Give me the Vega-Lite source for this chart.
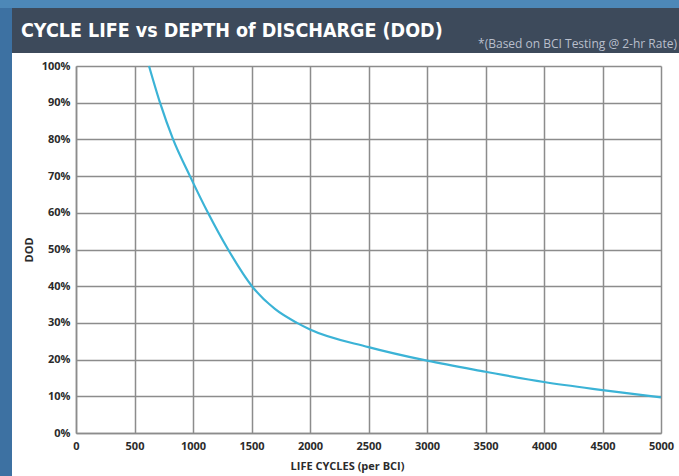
{
  "$schema": "https://vega.github.io/schema/vega-lite/v6.json",
  "background": "#ffffff",
  "padding": 0,
  "spacing": -6,
  "config": {
    "view": {"stroke": null},
    "font": "Open Sans"
  },
  "vconcat": [
    {
      "width": 679,
      "height": 8,
      "view": {"fill": "#4d88b8", "stroke": null},
      "data": {"values": []},
      "mark": "rect",
      "encoding": {}
    },
    {
      "spacing": 0,
      "hconcat": [
        {
          "width": 12,
          "height": 58,
          "view": {"fill": "#3d71a2", "stroke": null},
          "data": {"values": []},
          "mark": "rect",
          "encoding": {}
        },
        {
          "width": 667,
          "height": 45,
          "view": {"fill": "#3d4a5b", "stroke": null},
          "data": {
            "values": [
              {"part": "title", "label": "CYCLE LIFE vs DEPTH of DISCHARGE (DOD)"},
              {"part": "note", "label": "*(Based on BCI Testing @ 2-hr Rate)"}
            ]
          },
          "layer": [
            {
              "transform": [{"filter": "datum.part === 'title'"}],
              "mark": {"type": "text", "align": "left", "baseline": "middle", "dx": 9, "dy": 0, "font": "DejaVu Sans Condensed, DejaVu Sans, sans-serif", "fontWeight": "bold", "fontSize": 19.5, "color": "#ffffff"},
              "encoding": {
                "x": {"field": "part", "type": "nominal", "scale": {"type": "point", "domain": ["title", "note"], "padding": 0}, "axis": null},
                "text": {"field": "label"}
              }
            },
            {
              "transform": [{"filter": "datum.part === 'note'"}],
              "mark": {"type": "text", "align": "right", "baseline": "middle", "dx": -2, "dy": 13, "font": "Open Sans", "fontSize": 12, "color": "#b9bfcc"},
              "encoding": {
                "x": {"field": "part", "type": "nominal", "scale": {"type": "point", "domain": ["title", "note"], "padding": 0}, "axis": null},
                "text": {"field": "label"}
              }
            }
          ]
        }
      ]
    },
    {
      "spacing": 0,
      "hconcat": [
        {
          "width": 12,
          "height": 410,
          "view": {"fill": "#3d71a2", "stroke": null},
          "data": {"values": []},
          "mark": "rect",
          "encoding": {}
        },
        {
          "width": 585,
          "height": 367,
          "data": {
            "values": [
              {"cycles": 624, "dod": 1.0},
              {"cycles": 718, "dod": 0.9},
              {"cycles": 830, "dod": 0.8},
              {"cycles": 974, "dod": 0.7},
              {"cycles": 1128, "dod": 0.6},
              {"cycles": 1300, "dod": 0.5},
              {"cycles": 1504, "dod": 0.4},
              {"cycles": 1700, "dod": 0.338},
              {"cycles": 1889, "dod": 0.3},
              {"cycles": 2000, "dod": 0.282},
              {"cycles": 2500, "dod": 0.234},
              {"cycles": 3000, "dod": 0.197},
              {"cycles": 3500, "dod": 0.167},
              {"cycles": 4000, "dod": 0.139},
              {"cycles": 4500, "dod": 0.117},
              {"cycles": 5000, "dod": 0.097}
            ]
          },
          "mark": {"type": "line", "interpolate": "monotone", "color": "#3bb3d6", "strokeWidth": 2.2},
          "encoding": {
            "x": {
              "field": "cycles",
              "type": "quantitative",
              "scale": {"domain": [0, 5000], "nice": false},
              "axis": {
                "values": [0, 500, 1000, 1500, 2000, 2500, 3000, 3500, 4000, 4500, 5000],
                "format": "d",
                "title": "LIFE CYCLES (per BCI)",
                "titleX": 271,
                "titleFont": "Open Sans",
                "titleFontWeight": "bold",
                "titleFontSize": 11,
                "titleColor": "#2b2b2b",
                "titlePadding": 9,
                "labelFont": "Open Sans",
                "labelFontWeight": "bold",
                "labelFontSize": 11,
                "labelColor": "#2b2b2b",
                "labelPadding": 7,
                "labelOverlap": false,
                "labelFlush": false,
                "ticks": false,
                "grid": true,
                "gridColor": "#8c8c8c",
                "gridWidth": 1.5,
                "domainColor": "#8c8c8c",
                "domainWidth": 1.5
              }
            },
            "y": {
              "field": "dod",
              "type": "quantitative",
              "scale": {"domain": [0, 1], "nice": false},
              "axis": {
                "values": [0, 0.1, 0.2, 0.3, 0.4, 0.5, 0.6, 0.7, 0.8, 0.9, 1.0],
                "format": ".0%",
                "title": ["", "DOD"],
                "titleLineHeight": 11,
                "titleFont": "Open Sans",
                "titleFontWeight": "bold",
                "titleFontSize": 11,
                "titleColor": "#2b2b2b",
                "titlePadding": 7,
                "labelFont": "Open Sans",
                "labelFontWeight": "bold",
                "labelFontSize": 11,
                "labelColor": "#2b2b2b",
                "labelPadding": 6,
                "labelOverlap": false,
                "ticks": false,
                "grid": true,
                "gridColor": "#8c8c8c",
                "gridWidth": 1.5,
                "domainColor": "#8c8c8c",
                "domainWidth": 1.5
              }
            }
          }
        }
      ]
    }
  ]
}
